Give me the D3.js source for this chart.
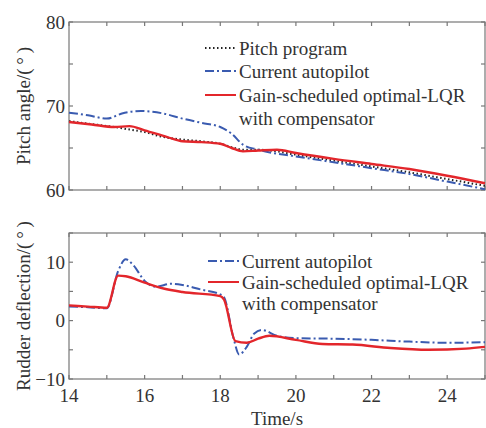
<!DOCTYPE html>
<html>
<head>
<meta charset="utf-8">
<script src="https://cdn.jsdelivr.net/npm/d3@7"></script>
<style>
  body { margin: 0; background: #fff; }
  text { font-family: "Liberation Serif", "Times New Roman", serif; fill: #333; }
</style>
</head>
<body>
<div id="chart"></div>
<script>
// ---- data ----
// top panel: pitch angle
let pitchProgram = [
  [14, 68.2], [14.5, 67.9], [15.2, 67.5], [15.6, 67.2], [16.0, 66.9], [16.4, 66.4],
  [17.0, 66.0], [17.5, 65.8], [18.0, 65.5], [18.3, 65.1], [18.6, 64.8], [19.0, 64.8],
  [19.5, 64.6], [20, 64.2], [21, 63.5], [22, 62.8], [23, 62.1], [24, 61.3], [25, 60.5]
];
let pitchCurrent = [
  [14, 69.2], [14.5, 68.9], [15.0, 68.5], [15.4, 69.1], [15.9, 69.4], [16.5, 69.1],
  [17.0, 68.5], [17.5, 68.0], [18.0, 67.5], [18.3, 66.7], [18.6, 65.4], [19.0, 64.8],
  [20, 64.0], [21, 63.3], [22, 62.6], [23, 61.9], [24, 61.0], [25, 60.1]
];
let pitchLqr = [
  [14, 68.1], [14.6, 67.8], [15.2, 67.5], [15.6, 67.6], [16.0, 67.1], [16.6, 66.3],
  [17.0, 65.8], [17.5, 65.7], [18.0, 65.5], [18.3, 65.0], [18.6, 64.6], [19.0, 64.7],
  [19.5, 64.8], [20, 64.4], [21, 63.7], [22, 63.1], [23, 62.5], [24, 61.7], [25, 60.8]
];

// bottom panel: rudder deflection
let rudderCurrent = [
  [14, 2.4], [14.5, 2.3], [15.0, 2.1], [15.3, 8.5], [15.5, 10.5], [15.7, 9.5],
  [16.0, 6.8], [16.3, 5.8], [16.7, 6.3], [17.0, 6.1], [17.5, 5.3], [18.0, 4.5],
  [18.1, 4.0], [18.35, -3.0], [18.5, -5.8], [18.7, -4.5], [18.9, -2.2], [19.1, -1.6],
  [19.5, -2.6], [20, -3.0], [21, -3.1], [22, -3.3], [23, -3.6], [24, -3.8], [25, -3.7]
];
let rudderLqr = [
  [14, 2.6], [14.5, 2.4], [15.0, 2.2], [15.3, 7.7], [15.5, 7.6], [16.0, 6.5],
  [16.5, 5.5], [17.0, 4.9], [18.0, 4.2], [18.1, 3.6], [18.4, -3.5], [18.7, -3.8],
  [19.0, -3.1], [19.3, -2.6], [20, -3.3], [20.7, -4.0], [21.5, -4.1], [22.5, -4.7],
  [23.5, -5.0], [24.5, -4.8], [25, -4.5]
];

let xTicks = [14, 15, 16, 17, 18, 19, 20, 21, 22, 23, 24, 25];
let xTickLabels = [14, 16, 18, 20, 22, 24];
let pitchTicks = [60, 65, 70, 75, 80];
let pitchTickLabels = [60, 70, 80];
let rudderTicks = [-10, -5, 0, 5, 10, 15];
let rudderTickLabels = [-10, 0, 10];

// ---- setup ----
let svgWidth = 486;
let svgHeight = 428;

let svg = d3.select("#chart")
  .append("svg")
  .attr("width", svgWidth)
  .attr("height", svgHeight);

svg.append("rect").attr("width", svgWidth).attr("height", svgHeight).attr("fill", "#fff");

let plotLeft = 69, plotRight = 485;
let xScale = d3.scaleLinear().domain([14, 25]).range([plotLeft, plotRight]);

let yPitch = d3.scaleLinear().domain([60, 80]).range([190, 22]);
let yRudder = d3.scaleLinear().domain([-10, 15]).range([379, 233]);

let colors = { red: "#e3262b", blue: "#3a5bb0", black: "#222" };

// draw a framed panel with inward ticks
function drawFrame(yScale, yTicks, yLabels, showX) {
  let [y0, y1] = yScale.range();
  let g = svg.append("g");
  let axisColor = "#777";

  g.append("rect")
    .attr("x", plotLeft).attr("y", y1)
    .attr("width", plotRight - plotLeft).attr("height", y0 - y1)
    .attr("fill", "none").attr("stroke", axisColor).attr("stroke-width", 1.2);

  xTicks.forEach(t => {
    let x = xScale(t);
    g.append("line").attr("x1", x).attr("x2", x).attr("y1", y0).attr("y2", y0 - 4)
      .attr("stroke", axisColor).attr("stroke-width", 1.2);
    g.append("line").attr("x1", x).attr("x2", x).attr("y1", y1).attr("y2", y1 + 4)
      .attr("stroke", axisColor).attr("stroke-width", 1.2);
  });
  yTicks.forEach(v => {
    let y = yScale(v);
    g.append("line").attr("x1", plotLeft).attr("x2", plotLeft + 4).attr("y1", y).attr("y2", y)
      .attr("stroke", axisColor).attr("stroke-width", 1.2);
    g.append("line").attr("x1", plotRight).attr("x2", plotRight - 4).attr("y1", y).attr("y2", y)
      .attr("stroke", axisColor).attr("stroke-width", 1.2);
  });

  yLabels.forEach(v => {
    g.append("text")
      .attr("x", plotLeft - 4).attr("y", yScale(v))
      .attr("text-anchor", "end").attr("dominant-baseline", "central")
      .attr("font-size", 19)
      .text(v < 0 ? "\u2212" + Math.abs(v) : v);
  });

  if (showX) {
    xTickLabels.forEach(t => {
      g.append("text")
        .attr("x", xScale(t)).attr("y", y0 + 16)
        .attr("text-anchor", "middle").attr("dominant-baseline", "central")
        .attr("font-size", 19)
        .text(t);
    });
  }
}

drawFrame(yPitch, pitchTicks, pitchTickLabels, false);
drawFrame(yRudder, rudderTicks, rudderTickLabels, true);

// ---- lines ----
function drawLine(data, yScale, color, width, dash) {
  let line = d3.line()
    .x(d => xScale(d[0]))
    .y(d => yScale(d[1]))
    .curve(d3.curveMonotoneX);
  svg.append("path")
    .datum(data)
    .attr("d", line)
    .attr("fill", "none")
    .attr("stroke", color)
    .attr("stroke-width", width)
    .attr("stroke-dasharray", dash);
}

drawLine(pitchProgram, yPitch, colors.black, 2, "1.5,2.5");
drawLine(pitchCurrent, yPitch, colors.blue, 2, "9,3,2,3");
drawLine(pitchLqr, yPitch, colors.red, 2.4, null);

drawLine(rudderCurrent, yRudder, colors.blue, 2, "9,3,2,3");
drawLine(rudderLqr, yRudder, colors.red, 2.4, null);

// ---- legends ----
function legendRow(x, y, color, dash, label) {
  svg.append("line")
    .attr("x1", x).attr("x2", x + 31).attr("y1", y).attr("y2", y)
    .attr("stroke", color).attr("stroke-width", 2)
    .attr("stroke-dasharray", dash);
  svg.append("text")
    .attr("x", x + 34).attr("y", y)
    .attr("dominant-baseline", "central")
    .attr("font-size", 19)
    .text(label);
}

legendRow(205, 48, colors.black, "1.5,2.5", "Pitch program");
legendRow(205, 71, colors.blue, "9,3,2,3", "Current autopilot");
legendRow(205, 95, colors.red, null, "Gain-scheduled optimal-LQR");
svg.append("text").attr("x", 239).attr("y", 118)
  .attr("dominant-baseline", "central").attr("font-size", 19)
  .text("with compensator");

legendRow(208, 261, colors.blue, "9,3,2,3", "Current autopilot");
legendRow(208, 282, colors.red, null, "Gain-scheduled optimal-LQR");
svg.append("text").attr("x", 242).attr("y", 303)
  .attr("dominant-baseline", "central").attr("font-size", 19)
  .text("with compensator");

// ---- axis titles ----
svg.append("text")
  .attr("transform", `translate(23, ${(yPitch(60) + yPitch(80)) / 2}) rotate(-90)`)
  .attr("text-anchor", "middle").attr("dominant-baseline", "central")
  .attr("font-size", 19)
  .text("Pitch angle/(\u2009\u00b0\u2009)");

svg.append("text")
  .attr("transform", `translate(23, ${(yRudder(-10) + yRudder(15)) / 2}) rotate(-90)`)
  .attr("text-anchor", "middle").attr("dominant-baseline", "central")
  .attr("font-size", 19)
  .text("Rudder deflection/(\u2009\u00b0\u2009)");

svg.append("text")
  .attr("x", (plotLeft + plotRight) / 2).attr("y", 418)
  .attr("text-anchor", "middle").attr("dominant-baseline", "central")
  .attr("font-size", 19)
  .text("Time/s");
</script>
</body>
</html>
